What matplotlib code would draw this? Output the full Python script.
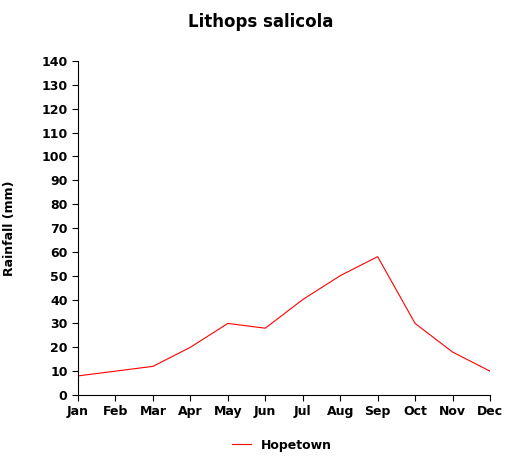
import matplotlib
matplotlib.use("Agg")
import matplotlib.pyplot as plt

months = ["Jan","Feb","Mar","Apr","May","Jun","Jul","Aug","Sep","Oct","Nov","Dec"]
rainfall = [8, 10, 12, 20, 30, 28, 40, 50, 58, 30, 18, 10]
series_name = "Hopetown"

fig = plt.figure(figsize=(5.22, 4.69), dpi=100)
ax = fig.add_axes([78/522, 1-395/469, (490-78)/522, (395-61)/469])
ax.plot(range(len(months)), rainfall, color="red", linewidth=0.8, label=series_name)
ax.set_xlim(0, len(months)-1)
ax.set_ylim(0, 140)
ax.set_yticks(range(0, 141, 10))
ax.set_xticks(range(len(months)))
ax.set_xticklabels(months)
for s in ["top", "right"]:
    ax.spines[s].set_visible(False)
ax.tick_params(direction="out", length=4, labelsize=9)
for lbl in ax.get_xticklabels() + ax.get_yticklabels():
    lbl.set_fontweight("bold")
ax.set_ylabel("Rainfall (mm)", fontsize=9, fontweight="bold", labelpad=18)
fig.text(0.5, 1-22/469, "Lithops salicola", ha="center", va="center", fontsize=12, fontweight="bold")
fig.legend(loc="center", bbox_to_anchor=(0.54, 1-445/469), frameon=False,
           prop={"weight": "bold", "size": 9}, handlelength=1.5)
fig.savefig("out.png", dpi=100)
